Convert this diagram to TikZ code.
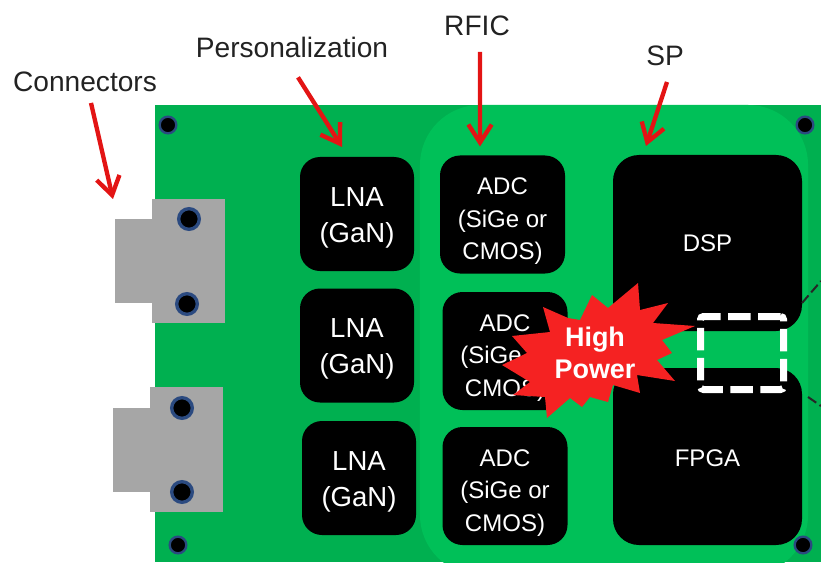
\documentclass[tikz,border=0pt]{standalone}
\usepackage{fontspec}
\setmainfont{Liberation Sans}
\usetikzlibrary{arrows.meta,positioning}
\definecolor{cBoard}{HTML}{00B050}
\definecolor{cZone}{HTML}{00C058}
\definecolor{cGrey}{HTML}{A6A6A6}
\definecolor{cHalo}{HTML}{2B4A80}
\definecolor{cArr}{HTML}{E31414}
\definecolor{cBurst}{HTML}{F52222}
\definecolor{cInk}{HTML}{222222}
\tikzset{
  every node/.style={inner sep=0pt, outer sep=0pt},
  lbl/.style={font=\fontsize{24}{28}\selectfont, text=cInk},
  chip/.style={fill=black, text=white, align=center, rounded corners=0.6cm},
  lna/.style={chip, minimum width=3.42cm, minimum height=3.42cm, font=\fontsize{23.5}{30.7}\selectfont},
  adc/.style={chip, minimum width=3.75cm, minimum height=3.54cm, font=\fontsize{20.5}{27.7}\selectfont},
  big/.style={chip, minimum width=5.67cm, font=\fontsize{20.5}{24}\selectfont, rounded corners=0.78cm},
  metal/.style={fill=cGrey},
  hole/.style={circle, fill=black, draw=cHalo, line width=0.07cm, minimum size=0.5cm},
  bighole/.style={circle, fill=black, draw=cHalo, line width=0.1cm, minimum size=0.62cm},
  redarr/.style={-{Straight Barb[length=0.54cm,width=0.7cm]}, line width=0.13cm, draw=cArr},
  wire/.style={draw=black!85, line width=0.06cm, dash pattern=on 0.3cm off 0.12cm},
}
\begin{document}
\begin{tikzpicture}[x=0.03cm,y=-0.03cm]
\useasboundingbox (0,0) rectangle (821,562);
% ---------------- board
\node[fill=cBoard, minimum width=19.98cm, minimum height=13.71cm] (board) at (488,333.5) {};
\node[fill=cZone, minimum width=11.64cm, minimum height=14.1cm, rounded corners=1.8cm] (zone) at (614,340) {};

% ---------------- connectors
\node[metal, minimum width=1.14cm, minimum height=2.52cm] (tabA) at (134,261) {};
\node[metal, minimum width=2.19cm, minimum height=3.72cm] (connA) at (188.5,261) {};
\node[metal, minimum width=1.17cm, minimum height=2.52cm] (tabB) at (132,450) {};
\node[metal, minimum width=2.19cm, minimum height=3.75cm] (connB) at (186.5,449.5) {};
\foreach \i/\x/\y in {1/168/125,2/805/125,3/178/545,4/803/545}{
  \node[hole] (h\i) at (\x,\y) {};
}
\foreach \i/\x/\y in {5/189/219,6/187/304,7/182/408,8/182/492}{
  \node[bighole] (h\i) at (\x,\y) {};
}

% ---------------- chips
\node[lna] (lna1) at (357,214) {\rule{0pt}{22pt}LNA\\(GaN)};
\node[lna] (lna2) at (357,345.5) {\rule{0pt}{22pt}LNA\\(GaN)};
\node[lna] (lna3) at (359,478) {\rule{0pt}{22pt}LNA\\(GaN)};
\node[adc] (adc1) at (502.5,214.5) {\rule{0pt}{26pt}ADC\\(SiGe or\\CMOS)};
\node[adc] (adc2) at (505,351) {\rule{0pt}{26pt}ADC\\(SiGe or\\CMOS)};
\node[adc] (adc3) at (505,486) {\rule{0pt}{26pt}ADC\\(SiGe or\\CMOS)};
\node[big, minimum height=5.28cm] (dsp) at (707.5,243) {DSP};
\node[big, minimum height=5.31cm] (fpga) at (707.5,456.5) {\rule{0pt}{18pt}FPGA};

% ---------------- traces leaving the picture
\coordinate (wireA) at (821,281);
\coordinate (wireB) at (821,406);
\draw[wire] ([yshift=0.84cm]dsp.south east) -- (wireA);
\draw[wire] ([xshift=0.18cm,yshift=-0.87cm]fpga.north east) -- (wireB);

% ---------------- high power burst
\fill[cBurst] (638,283) -- (640,310) -- (668,303) -- (653,323) -- (695,326) -- (662,340)
  -- (672,353) -- (657,360) -- (675,381) -- (637,375) -- (640,393) -- (613,385)
  -- (608,402) -- (590,397) -- (582,407) -- (570,398) -- (547,418) -- (545,397)
  -- (513,395) -- (530,382) -- (502,365) -- (527,353) -- (512,336) -- (550,332)
  -- (543,307) -- (568,318) -- (580,320) -- (592,295) -- (608,308) -- cycle;
\node[draw=white, line width=0.21cm, rounded corners=0.09cm, dash pattern=on 0.675cm off 0.225cm, minimum width=2.49cm, minimum height=2.19cm] (probe) at (742,353) {};
\node[font=\fontsize{23}{27.3}\selectfont\bfseries, text=white, align=center] (burst) at (595,353) {High\\Power};

% ---------------- labels and arrows
\node[lbl] (lblCon) at (85,82) {Connectors};
\node[lbl] (lblPer) at (292,47) {Personalization};
\node[lbl] (lblRf) at (477,26) {RFIC};
\node[lbl] (lblSp) at (665,56) {SP};
\draw[redarr] ([xshift=0.18cm,yshift=-0.33cm]lblCon.south) -- ([xshift=-1.17cm]connA.north west);
\draw[redarr] ([xshift=0.18cm,yshift=-0.6cm]lblPer.south) -- ([xshift=-0.45cm,yshift=0.3cm]lna1.north);
\draw[redarr] ([xshift=0.09cm,yshift=-0.48cm]lblRf.south) -- ([xshift=-0.675cm,yshift=0.27cm]adc1.north);
\draw[redarr] ([xshift=0.06cm,yshift=-0.48cm]lblSp.south) -- ([xshift=-1.845cm,yshift=0.27cm]dsp.north);
\end{tikzpicture}
\end{document}
